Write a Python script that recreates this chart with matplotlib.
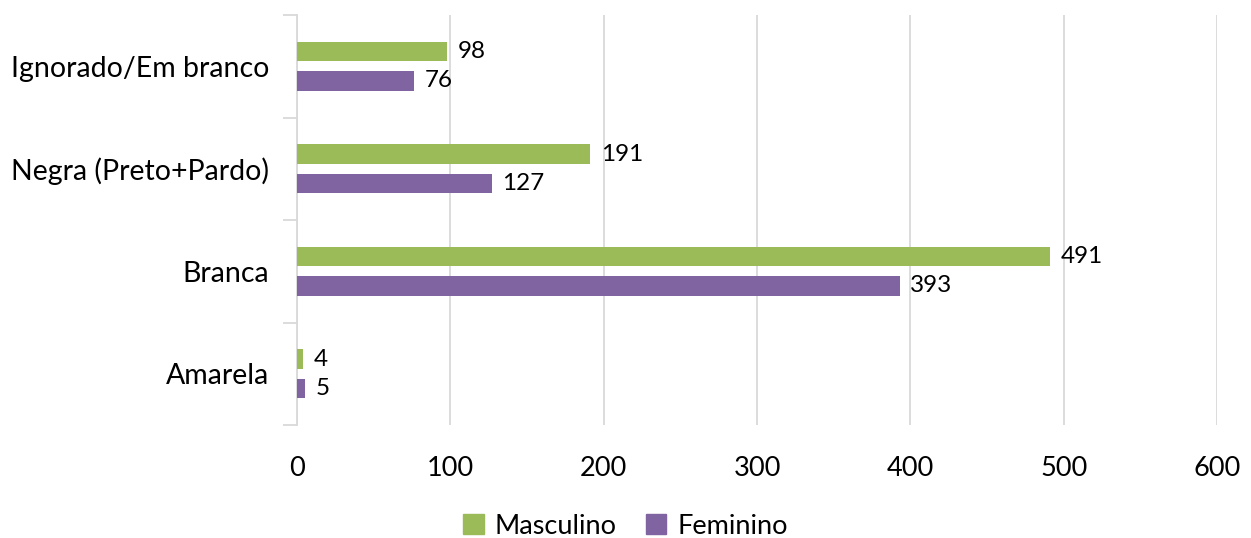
import numpy as np
import matplotlib
matplotlib.use("Agg")
import matplotlib.pyplot as plt
from matplotlib.patches import Patch

categories = ["Amarela", "Branca", "Negra (Preto+Pardo)", "Ignorado/Em branco"]
masculino = [4, 491, 191, 98]
feminino = [5, 393, 127, 76]
xticks = [0, 100, 200, 300, 400, 500, 600]

GREEN = "#9BBB59"
PURPLE = "#8064A2"
GREY = "#D9D9D9"

plt.rcParams["font.family"] = ["Lato", "DejaVu Sans"]

fig = plt.figure(figsize=(12.51, 5.38), dpi=100)
ax = fig.add_axes([297 / 1251, 1 - 425 / 538, (1217 - 297) / 1251, (425 - 15) / 538])

y = np.arange(len(categories))
h = 0.19
off = 0.142
ax.barh(y + off, masculino, height=h, color=GREEN, zorder=3)
ax.barh(y - off, feminino, height=h, color=PURPLE, zorder=3)

for yi, m, f in zip(y, masculino, feminino):
    ax.text(m + 7, yi + off, str(m), va="center", ha="left", fontsize=17.5, color="#000000")
    ax.text(f + 7, yi - off, str(f), va="center", ha="left", fontsize=17.5, color="#000000")

ax.set_xlim(0, 600)
ax.set_ylim(-0.5, len(categories) - 0.5)
ax.set_xticks(xticks)
ax.set_xticklabels([str(t) for t in xticks], fontsize=19.5)
ax.grid(axis="x", color=GREY, lw=1.3, zorder=0)
ax.tick_params(axis="x", length=0, pad=22)

ax.set_yticks(np.arange(-0.5, len(categories), 1.0))
ax.set_yticklabels([])
ax.set_yticks(y, minor=True)
ax.set_yticklabels(categories, minor=True, fontsize=20.5)
ax.tick_params(axis="y", which="major", length=10, color=GREY, width=1.3)
ax.tick_params(axis="y", which="minor", length=0, pad=20)

for s in ["top", "right", "bottom"]:
    ax.spines[s].set_visible(False)
ax.spines["left"].set_color(GREY)
ax.spines["left"].set_linewidth(1.3)

handles = [Patch(color=GREEN, label="Masculino"), Patch(color=PURPLE, label="Feminino")]
fig.legend(handles=handles, loc="center", bbox_to_anchor=(0.5, 1 - 526 / 538), ncol=2,
           frameon=False, fontsize=19.5, handlelength=0.75, handleheight=0.75,
           handletextpad=0.4, columnspacing=1.1)

fig.savefig("out.png", dpi=100)
